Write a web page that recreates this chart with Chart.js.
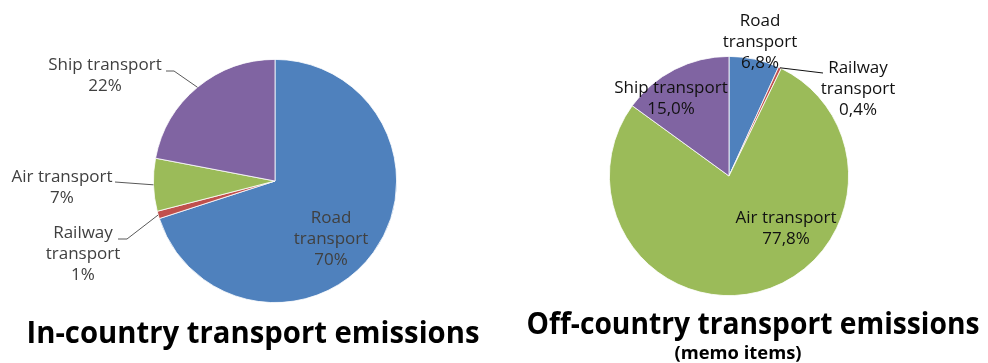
<!DOCTYPE html>
<html>
<head>
<meta charset="utf-8">
<script src="https://cdn.jsdelivr.net/npm/chart.js@4.4.1/dist/chart.umd.min.js"></script>
<style>
  html, body { margin: 0; padding: 0; background: #fff; }
  #wrap { position: relative; width: 988px; height: 363px; overflow: hidden; }
  canvas { position: absolute; top: 0; }
  #inCountry { left: 0; }
  #offCountry { left: 494px; }
</style>
</head>
<body>
<div id="wrap">
  <canvas id="inCountry" width="494" height="363"></canvas>
  <canvas id="offCountry" width="494" height="363"></canvas>
</div>
<script>
// categories, in drawing order (clockwise from 12 o'clock)
const categories = ['Road transport', 'Railway transport', 'Air transport', 'Ship transport'];
const sliceColors = ['#4f81bd', '#c0504d', '#9bbb59', '#8064a2'];

// shares in percent
const inCountryShares = [70, 1, 7, 22];
const offCountryShares = [6.8, 0.4, 77.8, 15.0];

// how each category label is broken into lines
const inCountryLines = [['Road', 'transport'], ['Railway', 'transport'], ['Air transport'], ['Ship transport']];
const offCountryLines = [['Road', 'transport'], ['Railway', 'transport'], ['Air transport'], ['Ship transport']];

const LINE_H = 21;

// draws the category/value labels, leader lines and the caption under each pie
const pieLabels = {
    id: 'pieLabels',
    afterDatasetsDraw(chart, args, opts) {
        const ctx = chart.ctx;
        const meta = chart.getDatasetMeta(0);
        const values = chart.data.datasets[0].data;
        ctx.save();
        meta.data.forEach(function (arc, i) {
            const spot = opts.spots[i];
            const cx = arc.x, cy = arc.y;
            const mid = (arc.startAngle + arc.endAngle) / 2;
            if (spot.leader) {
                ctx.strokeStyle = opts.leaderColor;
                ctx.lineWidth = 1;
                ctx.beginPath();
                ctx.moveTo(cx + Math.cos(mid) * arc.outerRadius, cy + Math.sin(mid) * arc.outerRadius);
                spot.leader.forEach(function (p) { ctx.lineTo(cx + p[0], cy + p[1]); });
                ctx.stroke();
            }
            const lines = opts.lines[i].concat([opts.format(values[i])]);
            ctx.fillStyle = opts.color;
            ctx.font = opts.font;
            ctx.textAlign = 'center';
            ctx.textBaseline = 'middle';
            lines.forEach(function (t, k) {
                ctx.fillText(t, cx + spot.at[0], cy + spot.at[1] + k * LINE_H);
            });
        });

        // captions, squeezed to the wanted width
        opts.captions.forEach(function (c) {
            ctx.font = c.font;
            ctx.fillStyle = '#000';
            ctx.textAlign = 'center';
            ctx.textBaseline = 'alphabetic';
            const w = ctx.measureText(c.text).width;
            ctx.save();
            ctx.translate(c.x, c.y);
            ctx.scale(c.width / w, 1);
            ctx.fillText(c.text, 0, 0);
            ctx.restore();
        });
        ctx.restore();
    }
};

function makePie(canvasId, shares, lines, padding, labelOpts) {
    return new Chart(document.getElementById(canvasId).getContext('2d'), {
        type: 'pie',
        data: {
            labels: categories,
            datasets: [{
                data: shares,
                backgroundColor: sliceColors,
                borderColor: '#ffffff',
                borderWidth: 0.8
            }]
        },
        options: {
            responsive: false,
            animation: false,
            events: [],
            layout: { padding: padding },
            plugins: {
                legend: { display: false },
                tooltip: { enabled: false },
                pieLabels: Object.assign({ lines: lines }, labelOpts)
            }
        },
        plugins: [pieLabels]
    });
}

makePie('inCountry', inCountryShares, inCountryLines,
    { left: 153, right: 97, top: 59, bottom: 60 },
    {
        color: '#404040',
        leaderColor: '#595959',
        font: '17px "Open Sans"',
        format: function (v) { return v + '%'; },
        spots: [
            { at: [56, 37] },
            { at: [-192, 52], leader: [[-148, 58], [-157, 58]] },
            { at: [-213, -4], leader: [[-160, 1]] },
            { at: [-170, -116], leader: [[-101, -110], [-109, -110]] }
        ],
        captions: [
            { text: 'In-country transport emissions', x: 253, y: 343, width: 453, font: 'bold 30px "Open Sans"' }
        ]
    });

makePie('offCountry', offCountryShares, offCountryLines,
    { left: 115, right: 139, top: 56, bottom: 67 },
    {
        color: '#111111',
        leaderColor: '#111111',
        font: '17px "Open Sans"',
        format: function (v) { return v.toFixed(1).replace('.', ',') + '%'; },
        spots: [
            { at: [31, -155] },
            { at: [129, -108], leader: [[94, -103]] },
            { at: [57, 42] },
            { at: [-58, -88] }
        ],
        captions: [
            { text: 'Off-country transport emissions', x: 259, y: 334, width: 453, font: 'bold 30px "Open Sans"' },
            { text: '(memo items)', x: 244, y: 359, width: 127, font: 'bold 17px "Open Sans"' }
        ]
    });
</script>
</body>
</html>
